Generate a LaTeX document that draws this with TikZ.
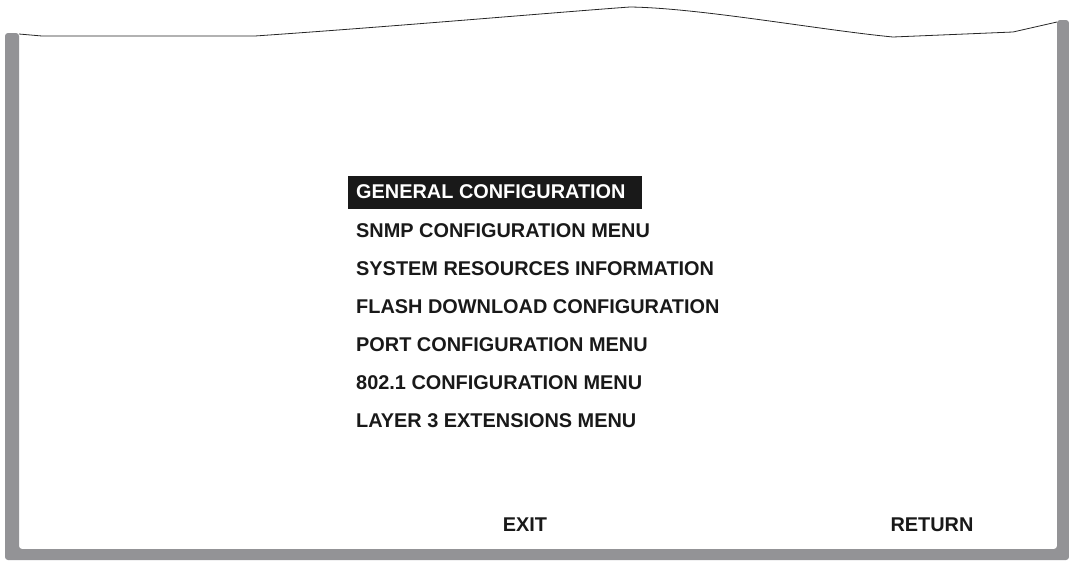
\documentclass[tikz,border=0pt]{standalone}
\usepackage{fontspec}
\setmainfont{Liberation Sans}
\usetikzlibrary{positioning}
\usetikzlibrary{backgrounds}
\usetikzlibrary{calc}
\definecolor{framegray}{RGB}{147,147,150}
\begin{document}
\begin{tikzpicture}[x=1pt,y=-1pt]
        \tikzstyle{item} = [anchor=west, inner sep=0pt, font=\fontsize{19.9}{22}\selectfont\bfseries, text=black!90]
        \useasboundingbox (0,0) rectangle (1069,560);
        % gray frame
        \fill[framegray, rounded corners=3pt] (5,33) -- (19,33) -- (19,549) -- (1057,549) -- (1057,20) -- (1069,20) -- (1069,560) -- (5,560) -- cycle;
        % torn top edge
        \draw[line width=0.8pt, black!85] (19,34) -- (42,36) -- (255,36)
                .. controls (400,26) and (560,12) .. (630,7)
                .. controls (700,8) and (820,30) .. (893,37)
                -- (1013,32) -- (1057,22);
        % menu
        \node[item, text=white] (general) at (356,192) {GENERAL CONFIGURATION};
        \begin{scope}[on background layer]
                \fill[black!90] ($(general.west) + (-8,-16.5)$) rectangle ($(general.east) + (16,16.5)$);
        \end{scope}
        \node[item] (snmp) at (356,231) {SNMP CONFIGURATION MENU};
        \node[item] (sysres) at (356,269) {SYSTEM RESOURCES INFORMATION};
        \node[item] (flash) at (356,307) {FLASH DOWNLOAD CONFIGURATION};
        \node[item] (port) at (356,345) {PORT CONFIGURATION MENU};
        \node[item] (dot1) at (356,383) {802.1 CONFIGURATION MENU};
        \node[item] (layer3) at (356,421) {LAYER 3 EXTENSIONS MENU};
        \node[item, anchor=center] (exit) at (525,525) {EXIT};
        \node[item, anchor=center] (return) at (932,525) {RETURN};
\end{tikzpicture}
\end{document}
